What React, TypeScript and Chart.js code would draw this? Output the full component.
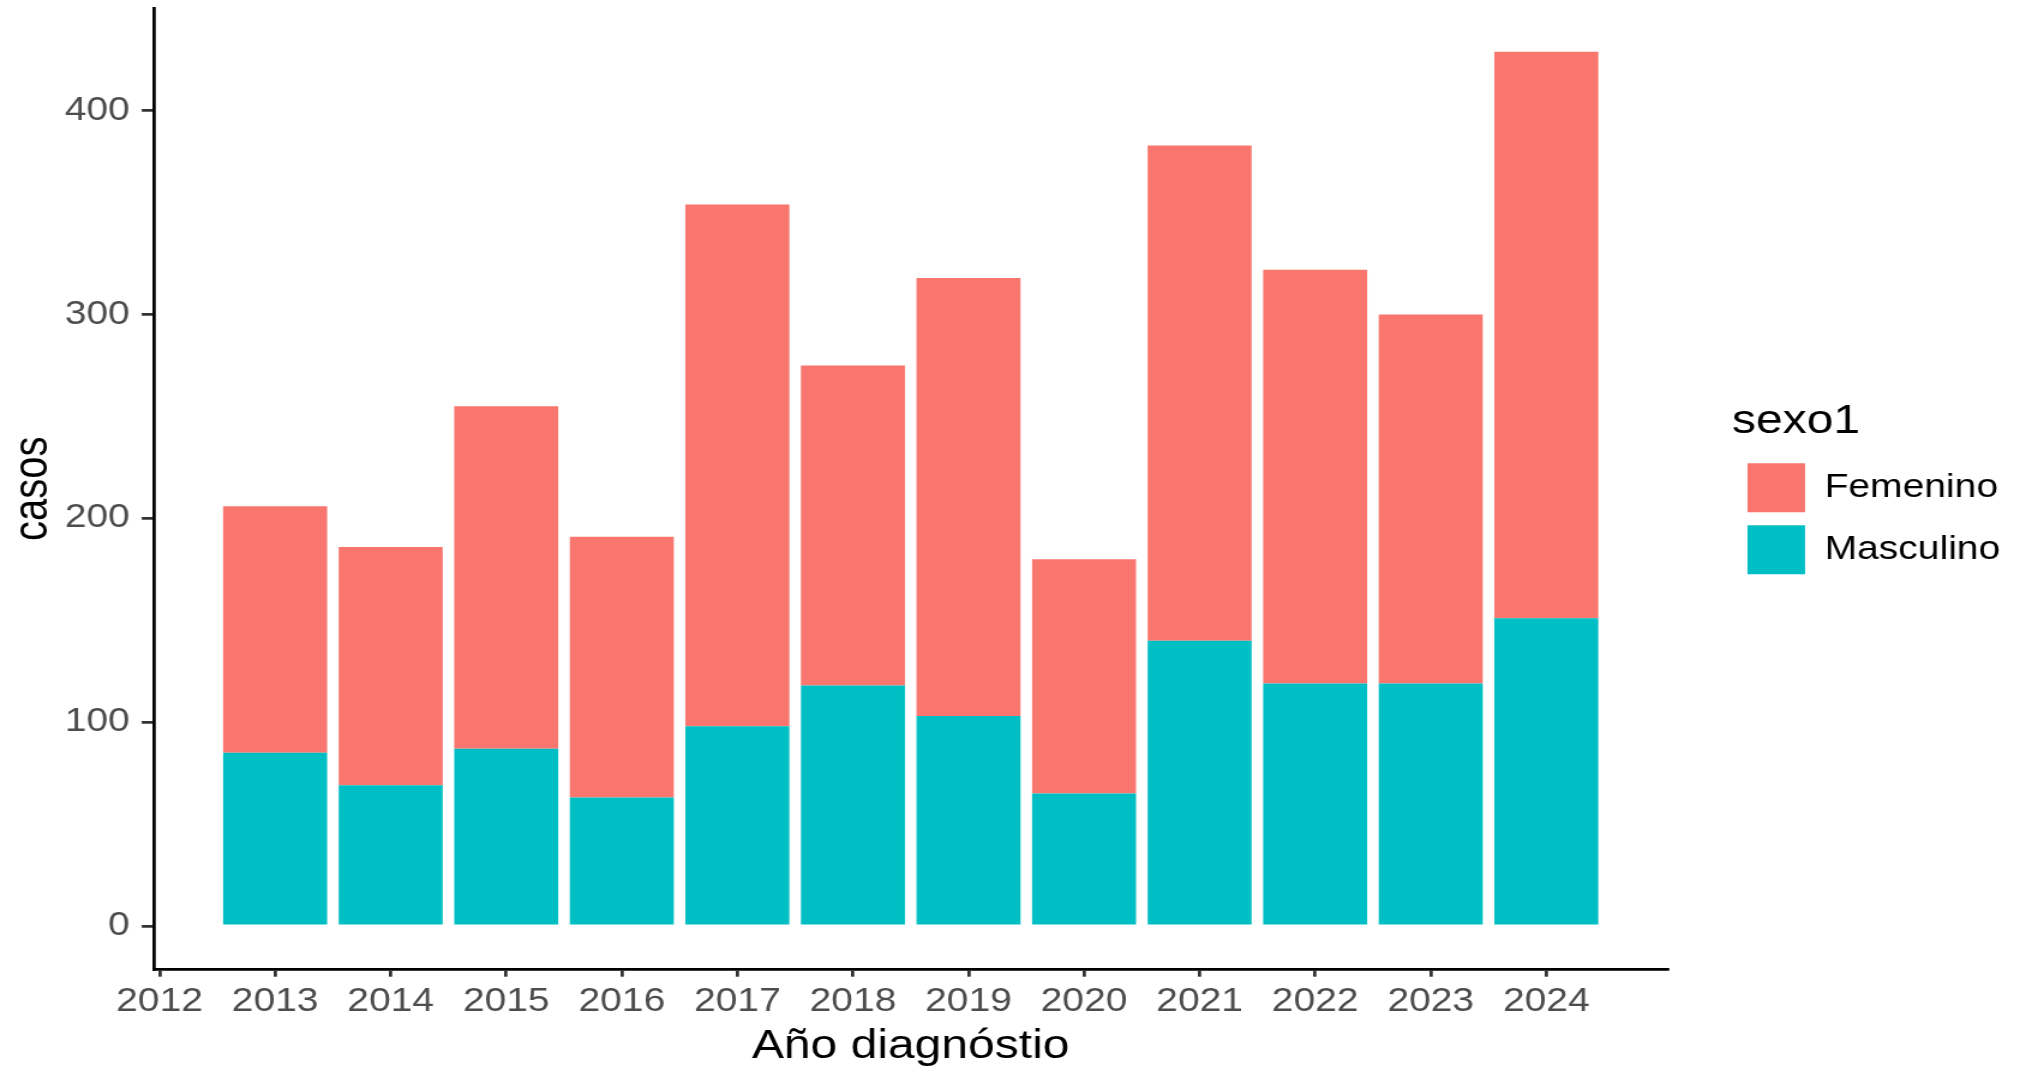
import React, { useEffect, useRef } from "react";
import { Chart, registerables } from "chart.js";

Chart.register(...registerables);

// ---------- data ----------
const years = [2013, 2014, 2015, 2016, 2017, 2018, 2019, 2020, 2021, 2022, 2023, 2024];
const masculino = [85, 69, 87, 63, 98, 118, 103, 65, 140, 119, 119, 151];
const femenino = [121, 117, 168, 128, 256, 157, 215, 115, 243, 203, 181, 278];
const xTickYears = [2012, 2013, 2014, 2015, 2016, 2017, 2018, 2019, 2020, 2021, 2022, 2023, 2024];
const yTickValues = [0, 100, 200, 300, 400];
const seriesNames = ["Masculino", "Femenino"];
const seriesColors = ["#00BFC4", "#F8766D"];
const legendTitle = "sexo1";
const xTitle = "Año diagnóstio";
const yTitle = "casos";

// ---------- page geometry ----------
const OUT_W = 2026;
const OUT_H = 1071;
const CW = 1688; // canvas drawn narrower, then stretched horizontally like the reference
const FONT = "'Liberation Sans', Arial, Helvetica, sans-serif";

export default function App() {
  const ref = useRef<HTMLCanvasElement | null>(null);

  useEffect(() => {
    document.body.style.margin = "0";
    const canvas = ref.current;
    if (!canvas) return;
    Chart.defaults.font.family = FONT;

    const totals = years.map((_, i) => masculino[i] + femenino[i]);
    const yHi = Math.max(...totals);
    const yPad = 0.05 * yHi;
    const xLo = years[0] - 0.45;
    const xHi = years[years.length - 1] + 0.45;
    const xPad = 0.05 * (xHi - xLo);

    const chart = new Chart(canvas, {
      type: "bar",
      data: {
        datasets: [
          {
            label: seriesNames[0],
            data: years.map((y, i) => ({ x: y, y: masculino[i] })),
            backgroundColor: seriesColors[0],
            borderWidth: 0,
            stack: "s",
            categoryPercentage: 1,
            barPercentage: 0.9,
          },
          {
            label: seriesNames[1],
            data: years.map((y, i) => ({ x: y, y: femenino[i] })),
            backgroundColor: seriesColors[1],
            borderWidth: 0,
            stack: "s",
            categoryPercentage: 1,
            barPercentage: 0.9,
          },
        ],
      },
      options: {
        responsive: false,
        animation: false,
        devicePixelRatio: 1,
        layout: { padding: { top: 8, right: 11.5, bottom: 0, left: 0 } },
        plugins: {
          tooltip: { enabled: false },
          legend: {
            display: true,
            position: "right",
            fullSize: false,
            align: "center",
            labels: {
              boxWidth: 48,
              boxHeight: 49,
              padding: 13,
              color: "#000000",
              font: { family: FONT, size: 32.5 },
              sort: (a: any, b: any) => b.datasetIndex - a.datasetIndex,
            },
            title: {
              display: true,
              text: legendTitle,
              position: "start",
              color: "#000000",
              font: { family: FONT, size: 40 },
              padding: { top: 12, bottom: 0 },
            },
          },
        },
        scales: {
          x: {
            type: "linear",
            stacked: true,
            offset: false,
            bounds: "data",
            min: xLo - xPad,
            max: xHi + xPad,
            afterBuildTicks: (s: any) => {
              s.ticks = xTickYears.map((v) => ({ value: v }));
            },
            afterFit: (s: any) => {
              s.height = 101.3;
              s.paddingLeft = 0;
              s.paddingRight = 0;
            },
            ticks: {
              autoSkip: false,
              maxRotation: 0,
              minRotation: 0,
              padding: 6,
              color: "#4D4D4D",
              font: { family: FONT, size: 32.5 },
              callback: (v: any) => String(v),
            },
            grid: {
              display: true,
              offset: false,
              drawOnChartArea: false,
              drawTicks: true,
              tickLength: 7,
              color: "#333333",
              lineWidth: 2.75,
            },
            border: { display: true, color: "#000000", width: 2.75 },
            title: {
              display: true,
              text: xTitle,
              color: "#000000",
              font: { family: FONT, size: 40 },
              padding: { top: 0, bottom: 0 },
            },
          },
          y: {
            type: "linear",
            stacked: true,
            bounds: "data",
            beginAtZero: false,
            min: -yPad,
            max: yHi + yPad,
            afterBuildTicks: (s: any) => {
              s.ticks = yTickValues.map((v) => ({ value: v }));
            },
            afterFit: (s: any) => {
              s.width = 128.6;
              s.paddingTop = 0;
              s.paddingBottom = 0;
            },
            ticks: {
              autoSkip: false,
              padding: 10,
              color: "#4D4D4D",
              font: { family: FONT, size: 32.5 },
              callback: (v: any) => String(v),
            },
            grid: {
              display: true,
              drawOnChartArea: false,
              drawTicks: true,
              tickLength: 10.5,
              color: "#333333",
              lineWidth: 2.75,
            },
            border: { display: true, color: "#000000", width: 2.75 },
            title: {
              display: true,
              text: yTitle,
              color: "#000000",
              font: { family: FONT, size: 40 },
              padding: { top: 4, bottom: 0 },
            },
          },
          gap: {
            type: "linear",
            position: "right",
            display: true,
            grid: { display: false },
            border: { display: false },
            ticks: { display: false },
            afterFit: (s: any) => {
              s.width = 54;
              s.paddingTop = 0;
              s.paddingBottom = 0;
            },
          },
        },
      } as any,
    });

    return () => {
      chart.destroy();
    };
  }, []);

  return (
    <div
      style={{
        position: "fixed",
        left: 0,
        top: 0,
        width: OUT_W,
        height: OUT_H,
        overflow: "hidden",
        background: "#ffffff",
      }}
    >
      <canvas
        ref={ref}
        width={CW}
        height={OUT_H}
        style={{
          display: "block",
          width: CW,
          height: OUT_H,
          transform: `scaleX(${OUT_W / CW})`,
          transformOrigin: "0 0",
        }}
      />
    </div>
  );
}
